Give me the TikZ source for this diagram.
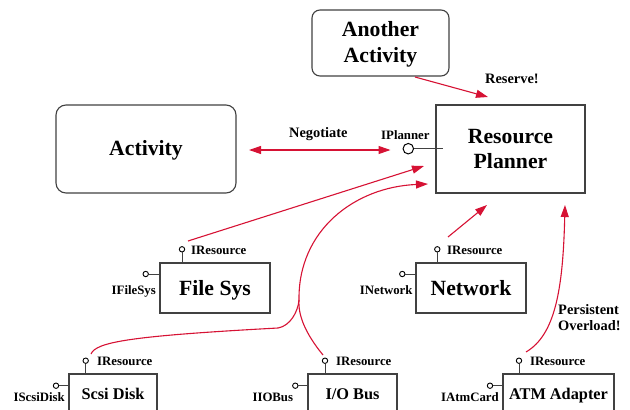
\documentclass[tikz,border=0pt]{standalone}
\usepackage{fontspec}
\setmainfont{Liberation Serif}
\usetikzlibrary{arrows.meta}
\definecolor{arr}{RGB}{214,18,52}
\definecolor{edge}{RGB}{65,65,65}
\begin{document}
\begin{tikzpicture}[x=1pt,y=-1pt,
  box/.style={draw=edge, line width=1.1pt, fill=white, inner sep=0pt},
  bigtxt/.style={font=\fontsize{21.7}{26}\selectfont\bfseries, inner sep=0pt, anchor=base},
  medtxt/.style={font=\fontsize{16.3}{19}\selectfont\bfseries, inner sep=0pt, anchor=base},
  arrtxt/.style={font=\fontsize{14.4}{17}\selectfont\bfseries, inner sep=0pt, anchor=base west},
  pintxt/.style={font=\fontsize{12.8}{15}\selectfont\bfseries, inner sep=0pt},
  pin/.style={circle, draw=black, line width=0.9pt, fill=white, inner sep=0pt, minimum size=5.4pt},
  bigpin/.style={circle, draw=black, line width=1pt, fill=white, inner sep=0pt, minimum size=10.5pt},
  pinline/.style={draw=edge, line width=1pt},
  conn/.style={draw=arr, line width=1.1pt},
  arrow/.style={conn, -{Triangle[length=12pt,width=8pt]}},
  dblarrow/.style={conn, {Triangle[length=12pt,width=8pt]}-{Triangle[length=12pt,width=8pt]}}
]
\useasboundingbox (0,0) rectangle (630,410);
\begin{scope}
\clip (0,0) rectangle (630,410);

% boxes
\node[box, rounded corners=8pt, minimum width=137pt, minimum height=66pt] (another) at (380.5,43) {};
\node[box, minimum width=149pt, minimum height=88pt] (rp) at (510.5,149) {};
\node[box, rounded corners=10pt, minimum width=180pt, minimum height=88pt] (act) at (146,149) {};
\node[box, minimum width=110pt, minimum height=50pt] (fs) at (215,288) {};
\node[box, minimum width=110pt, minimum height=50pt] (net) at (471,288) {};
\node[box, minimum width=88pt, minimum height=50pt] (scsi) at (113,399) {};
\node[box, minimum width=89pt, minimum height=50pt] (iob) at (352.5,399) {};
\node[box, minimum width=111pt, minimum height=50pt] (atm) at (558.5,399) {};

% box texts
\node[bigtxt] (anotherA) at (380.5,36) {Another};
\node[bigtxt] (anotherB) at (380.5,62.5) {Activity};
\node[bigtxt] (rpA) at (510.5,143) {Resource};
\node[bigtxt] (rpB) at (510.5,168) {Planner};
\node[bigtxt] (actT) at (146,155.5) {Activity};
\node[bigtxt] (fsT) at (215,295.5) {File Sys};
\node[bigtxt] (netT) at (471,295) {Network};
\node[medtxt] (scsiT) at (113,399) {Scsi Disk};
\node[medtxt] (iobT) at (352.5,399) {I/O Bus};
\node[medtxt] (atmT) at (558.5,399) {ATM Adapter};

% IPlanner pin
\node[bigpin] (ipl) at (408.3,148.7) {};
\draw[pinline] (ipl.east) -- ++(29,0);
\node[pintxt, anchor=base west] (iplT) at (381,139.3) {IPlanner};

% top pins (IResource)
\foreach \n/\x/\lx in {fs/182/191, net/437.3/447}{
  \node[pin] (\n R) at (\x,249.3) {};
  \draw[pinline] (\n R.south) -- (\n R.south |- \n.north);
  \node[pintxt, anchor=base west] (\n RT) at (\lx,254) {IResource};
}
\foreach \n/\x/\lx in {scsi/85.7/97, iob/325/336, atm/519/530}{
  \node[pin] (\n R) at (\x,360.7) {};
  \draw[pinline] (\n R.south) -- (\n R.south |- \n.north);
  \node[pintxt, anchor=base west] (\n RT) at (\lx,365) {IResource};
}

% side pins
\node[pin] (fsS) at (145.7,274) {};
\draw[pinline] (fsS.east) -- (fsS.east -| fs.west);
\node[pintxt, anchor=base east] (fsST) at (156,294) {IFileSys};
\node[pin] (netS) at (402.3,274) {};
\draw[pinline] (netS.east) -- (netS.east -| net.west);
\node[pintxt, anchor=base east] (netST) at (412.7,294) {INetwork};
\node[pin] (scsiS) at (56,385.7) {};
\draw[pinline] (scsiS.east) -- (scsiS.east -| scsi.west);
\node[pintxt, anchor=base east] (scsiST) at (65,401.7) {IScsiDisk};
\node[pin] (iobS) at (295.3,385.7) {};
\draw[pinline] (iobS.east) -- (iobS.east -| iob.west);
\node[pintxt, anchor=base east] (iobST) at (293.3,401.7) {IIOBus};
\node[pin] (atmS) at (490,385.7) {};
\draw[pinline] (atmS.east) -- (atmS.east -| atm.west);
\node[pintxt, anchor=base east] (atmST) at (499,401.7) {IAtmCard};

% connector end points
\coordinate (negL) at (249,150);
\coordinate (negR) at (390.5,150);
\coordinate (resS) at (415,77);
\coordinate (resE) at (488,97);
\coordinate (fsA) at (188,241);
\coordinate (fsE) at (424,166);
\coordinate (iobA) at (323,355);
\coordinate (merge) at (299,300);
\coordinate (iobE) at (428,184);
\coordinate (scsiA) at (91,354);
\coordinate (kink) at (278,328);
\coordinate (netA) at (448,237);
\coordinate (netE) at (487,205);
\coordinate (atmA) at (526,352);
\coordinate (atmE) at (565,205);

% connectors
\draw[dblarrow] (negL) -- (negR);
\node[arrtxt] (negT) at (289,137.5) {Negotiate};
\draw[arrow] (resS) -- (resE);
\node[arrtxt] (resT) at (485,83.3) {Reserve!};
\draw[arrow] (fsA) -- (fsE);
\draw[arrow] (iobA) .. controls (305,333) and (298,315) .. (merge)
  .. controls (298,230) and (355,187) .. (iobE);
\draw[conn] (scsiA) .. controls (96,342) and (130,336) .. (kink)
  .. controls (290,326) and (298,312) .. (merge);
\draw[arrow] (netA) -- (netE);
\draw[arrow] (atmA) .. controls (555,335) and (563,290) .. (atmE);
\node[arrtxt] (perT) at (558,314) {Persistent};
\node[arrtxt] (ovlT) at (558,330.7) {Overload!};
\end{scope}
\end{tikzpicture}
\end{document}
